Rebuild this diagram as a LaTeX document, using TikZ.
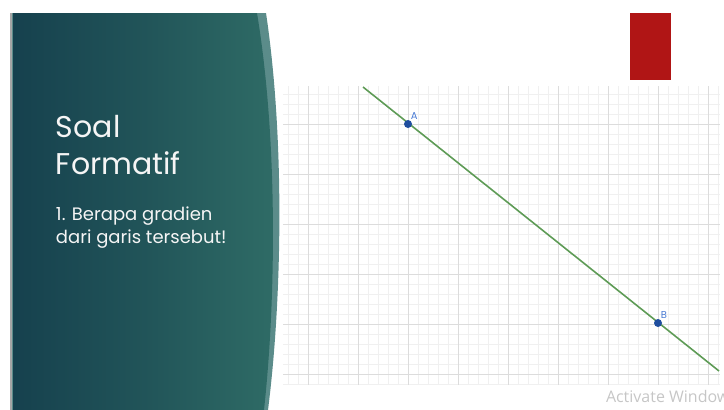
\documentclass[tikz,border=0pt]{standalone}
\usepackage{fontspec}
\setmainfont{Poppins}
\newfontfamily\wmfont{Open Sans}
\usetikzlibrary{positioning}
\definecolor{paneldark}{HTML}{16414E}
\definecolor{panellight}{HTML}{2F6C66}
\definecolor{panelband}{HTML}{5B8C8A}
\definecolor{gridminor}{HTML}{F0F0F0}
\definecolor{gridmajor}{HTML}{DCDCDC}
\definecolor{linegreen}{HTML}{5E9B56}
\definecolor{pointblue}{HTML}{1F4E9E}
\definecolor{labelblue}{HTML}{4A7BD4}
\definecolor{slidered}{HTML}{B01515}
\begin{document}
\begin{tikzpicture}[
  x=1pt, y=-1pt,
  every node/.style={inner sep=0pt, outer sep=0pt},
  slidetext/.style={text=white!92!gray, align=left, anchor=north west},
  point/.style={circle, fill=pointblue, minimum size=8pt},
  ptlabel/.style={text=labelblue, font=\fontsize{10}{10}\selectfont}
]
\useasboundingbox (0,0) rectangle (724,410);
\begin{scope}
\clip (0,0) rectangle (724,410);
% panel on the left
\fill[gray!70] (10,13) rectangle (13,410);
\fill[panelband] (12,13) -- (266,13) .. controls (285,140) and (282,300) .. (268,410) -- (12,410) -- cycle;
\shade[left color=paneldark, right color=panellight, middle color=paneldark!55!panellight]
  (13,13) -- (257,13) .. controls (278,140) and (276,300) .. (264,410) -- (13,410) -- cycle;
% grid
\foreach \gx in {288,298,...,718} \draw[gridminor, line width=0.6pt] (\gx,86) -- (\gx,385);
\foreach \gy in {94,104,...,384} \draw[gridminor, line width=0.6pt] (283,\gy) -- (720,\gy);
\foreach \gx in {308,358,...,708} \draw[gridmajor, line width=0.8pt] (\gx,86) -- (\gx,385);
\foreach \gy in {124,174,...,374} \draw[gridmajor, line width=0.8pt] (283,\gy) -- (720,\gy);
% red box
\fill[slidered] (630,13) rectangle (671,80);
% the line
\coordinate (lineStart) at (363,87);
\coordinate (lineEnd) at (719,371);
\draw[linegreen, line width=1.6pt] (lineStart) -- (lineEnd);
\node[point] (ptA) at (408,124) {};
\node[point] (ptB) at (658,323) {};
\node[ptlabel, above right=2pt and 0pt of ptA] (labA) {A};
\node[ptlabel, above right=2pt and 0pt of ptB] (labB) {B};
% texts
\node[slidetext, font=\fontsize{30}{37}\selectfont] (title) at (56,115) {Soal\\Formatif};
\node[slidetext, font=\fontsize{18}{23}\selectfont, below=32pt of title.south west, anchor=north west] (question) {1. Berapa gradien\\dari garis tersebut!};
\node[anchor=base west, text=gray!45, font=\wmfont\fontsize{16}{16}\selectfont] (watermark) at (606,402) {Activate Windows};
\end{scope}
\end{tikzpicture}
\end{document}
